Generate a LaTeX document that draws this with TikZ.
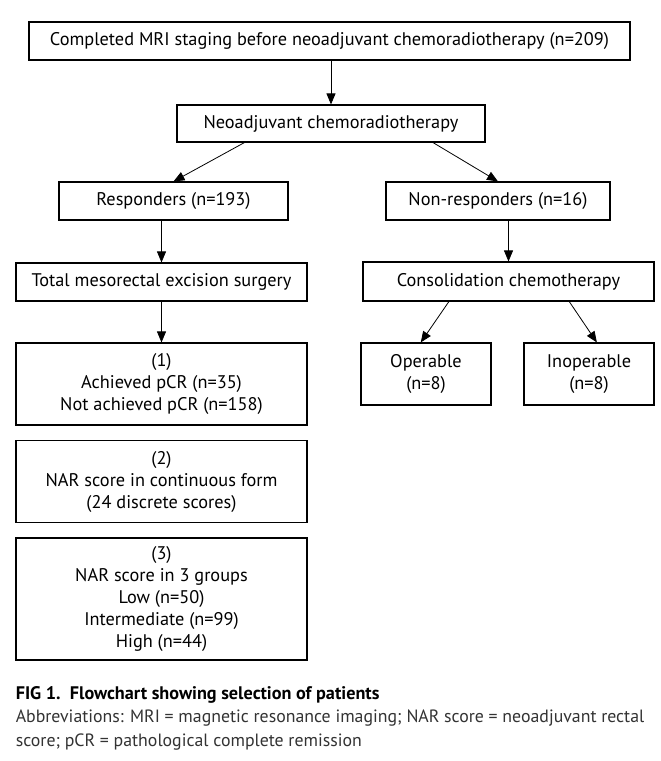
\documentclass[tikz,border=0pt]{standalone}
\usepackage{fontspec}
\setmainfont{PT Sans}
\usetikzlibrary{arrows.meta,calc}
\begin{document}
\begin{tikzpicture}[x=1pt,y=-1pt,
  box/.style={draw, line width=1.1pt, inner sep=0pt, align=center, font=\fontsize{18.3}{22}\selectfont},
  arr/.style={line width=0.8pt, -{Triangle[length=11pt,width=9pt]}},
  captxt/.style={anchor=base west, inner sep=0pt, font=\fontsize{17.8}{20}\selectfont, text=black!80}]
\useasboundingbox (0,0) rectangle (661,761);
\fill[white] (0,0) rectangle (661,761);

\node[box, minimum width=601pt, minimum height=38pt] (top) at (329.5,41) {Completed MRI staging before neoadjuvant chemoradiotherapy (n=209)};
\node[box, minimum width=308pt, minimum height=37pt] (neo) at (331,123.5) {Neoadjuvant chemoradiotherapy};
\node[box, minimum width=229pt, minimum height=38pt] (resp) at (173.5,201) {Responders (n=193)};
\node[box, minimum width=224pt, minimum height=38pt] (nonresp) at (498,201) {Non-responders (n=16)};
\node[box, minimum width=291pt, minimum height=38pt] (tme) at (161.5,282) {Total mesorectal excision surgery};
\node[box, minimum width=291pt, minimum height=39pt] (consol) at (508.5,281.5) {Consolidation chemotherapy};
\node[box, minimum width=291pt, minimum height=82pt] (b1) at (161.5,384) {(1)\\Achieved pCR (n=35)\\Not achieved pCR (n=158)};
\node[box, minimum width=130pt, minimum height=62pt] (op) at (426,374) {Operable\\(n=8)};
\node[box, minimum width=130pt, minimum height=62pt] (inop) at (589,374) {Inoperable\\(n=8)};
\node[box, minimum width=291pt, minimum height=82pt] (b2) at (161.5,481.5) {(2)\\NAR score in continuous form\\(24 discrete scores)};
\node[box, minimum width=291pt, minimum height=122pt] (b3) at (161.5,599) {(3)\\NAR score in 3 groups\\Low (n=50)\\Intermediate (n=99)\\High (n=44)};

\draw[arr] (neo.north |- top.south) -- (neo.north);
\draw[arr] ($(neo.south west)!0.22!(neo.south east)$) -- (resp.north);
\draw[arr] ($(neo.south west)!0.83!(neo.south east)$) -- (nonresp.north);
\draw[arr] (tme.north |- resp.south) -- (tme.north);
\draw[arr] (consol.north |- nonresp.south) -- (consol.north);
\draw[arr] (tme.south) -- (b1.north);
\draw[arr] ($(consol.south west)!0.296!(consol.south east)$) -- ($(op.north west)!0.46!(op.north east)$);
\draw[arr] ($(consol.south west)!0.708!(consol.south east)$) -- ($(inop.north west)!0.56!(inop.north east)$);

\node[anchor=base west, inner sep=0pt, font=\bfseries\fontsize{18.2}{20}\selectfont] (fig) at (15.6,699) {FIG 1.\ \ Flowchart showing selection of patients};
\node[captxt] (ab1) at (15.6,722) {Abbreviations: MRI = magnetic resonance imaging; NAR score = neoadjuvant rectal};
\node[captxt] (ab2) at (15.6,746) {score; pCR = pathological complete remission};
\end{tikzpicture}
\end{document}
